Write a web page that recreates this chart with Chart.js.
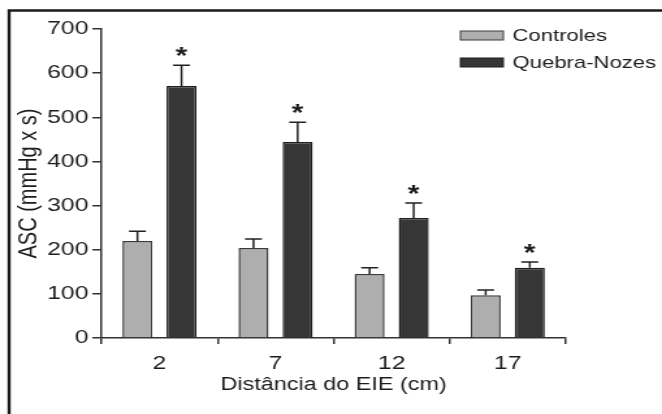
<!DOCTYPE html>
<html>
<head>
<meta charset="utf-8">
<script src="https://cdn.jsdelivr.net/npm/chart.js@4.4.1/dist/chart.umd.min.js"></script>
<style>
  html, body { margin: 0; padding: 0; background: #fff; }
  canvas { display: block; }
</style>
</head>
<body>
<!-- the source figure is stretched sideways, so the canvas is drawn narrower and widened by css -->
<canvas id="ascChart" width="509" height="414" style="width:662px;height:414px"></canvas>
<script>
var distancias = ['2', '7', '12', '17'];
var controles = [220, 204, 145, 97];
var controlesErro = [22, 20, 14, 12];
var quebraNozes = [571, 444, 272, 159];
var quebraNozesErro = [47, 45, 34, 13];
var asteriscos = [true, true, true, true];
var yTicks = [0, 100, 200, 300, 400, 500, 600, 700];

var fonte = 'Liberation Sans';
var texto = '#1c1c1c';

var extras = {
  id: 'extras',
  afterDatasetsDraw: function (chart) {
    var ctx = chart.ctx;
    var y = chart.scales.y;
    var erros = [controlesErro, quebraNozesErro];
    ctx.save();
    ctx.strokeStyle = '#222';
    ctx.fillStyle = '#1c1c1c';
    ctx.lineWidth = 1.5;
    chart.data.datasets.forEach(function (ds, d) {
      chart.getDatasetMeta(d).data.forEach(function (bar, i) {
        var top = y.getPixelForValue(ds.data[i] + erros[d][i]);
        ctx.beginPath();
        ctx.moveTo(bar.x, bar.y);
        ctx.lineTo(bar.x, top);
        ctx.moveTo(bar.x - 6.5, top);
        ctx.lineTo(bar.x + 6.5, top);
        ctx.stroke();
        if (d === 1 && asteriscos[i]) {
          ctx.font = 'bold 23px "' + fonte + '"';
          ctx.textAlign = 'center';
          ctx.textBaseline = 'alphabetic';
          ctx.fillText('*', bar.x, top - 1);
        }
      });
    });
    ctx.restore();
  },
  afterDraw: function (chart) {
    var ctx = chart.ctx;
    ctx.save();
    // legend, top right inside the plot
    chart.data.datasets.forEach(function (ds, d) {
      var cy = 35.5 + d * 27;
      ctx.fillStyle = ds.backgroundColor;
      ctx.fillRect(354, cy - 4.5, 33, 9);
      ctx.strokeStyle = ds.borderColor;
      ctx.lineWidth = 1;
      ctx.strokeRect(354, cy - 4.5, 33, 9);
      ctx.fillStyle = texto;
      ctx.font = '17px "' + fonte + '"';
      ctx.textAlign = 'left';
      ctx.textBaseline = 'middle';
      ctx.fillText(ds.label, 394, cy + 1);
    });
    // frame of the scanned figure (top and left edges only)
    ctx.strokeStyle = '#1a1a1a';
    ctx.lineWidth = 2.4;
    ctx.beginPath();
    ctx.moveTo(7, 414);
    ctx.lineTo(7, 10.5);
    ctx.lineTo(509, 10.5);
    ctx.stroke();
    ctx.restore();
  }
};

var ctx = document.getElementById('ascChart').getContext('2d');
var chart = new Chart(ctx, {
  type: 'bar',
  data: {
    labels: distancias,
    datasets: [{
      label: 'Controles',
      data: controles,
      backgroundColor: '#aeaeae',
      borderColor: '#3a3a3a',
      borderWidth: 1.5,
      barPercentage: 0.68,
      categoryPercentage: 0.76
    }, {
      label: 'Quebra-Nozes',
      data: quebraNozes,
      backgroundColor: '#363636',
      borderColor: '#1e1e1e',
      borderWidth: 1.5,
      barPercentage: 0.68,
      categoryPercentage: 0.76
    }]
  },
  options: {
    responsive: false,
    animation: false,
    devicePixelRatio: 1,
    layout: {
      padding: { left: 0, right: 74, top: 29, bottom: 0 }
    },
    plugins: {
      legend: { display: false },
      tooltip: { enabled: false }
    },
    scales: {
      x: {
        grid: {
          drawOnChartArea: false,
          tickLength: 6,
          color: '#333',
          lineWidth: 1.5
        },
        border: { color: '#333', width: 1.5 },
        ticks: {
          color: texto,
          padding: 8,
          maxRotation: 0,
          font: { family: fonte, size: 19 }
        },
        title: {
          display: true,
          text: 'Distância do EIE (cm)',
          color: texto,
          padding: { top: 0, bottom: 18 },
          font: { family: fonte, size: 18 }
        },
        afterFit: function (scale) {
          scale.height = 76;
        }
      },
      y: {
        min: 0,
        max: 700,
        grid: {
          drawOnChartArea: false,
          tickLength: 7,
          color: '#333',
          lineWidth: 1.5
        },
        border: { color: '#333', width: 1.5 },
        ticks: {
          color: texto,
          padding: 3,
          font: { family: fonte, size: 19 }
        },
        afterBuildTicks: function (scale) {
          scale.ticks = yTicks.map(function (v) { return { value: v }; });
        },
        title: {
          display: true,
          text: 'ASC (mmHg x s)',
          color: texto,
          padding: { top: 10, bottom: 0 },
          font: { family: fonte, size: 20 }
        },
        afterFit: function (scale) {
          scale.width = 78;
        }
      }
    }
  },
  plugins: [extras]
});
</script>
</body>
</html>
